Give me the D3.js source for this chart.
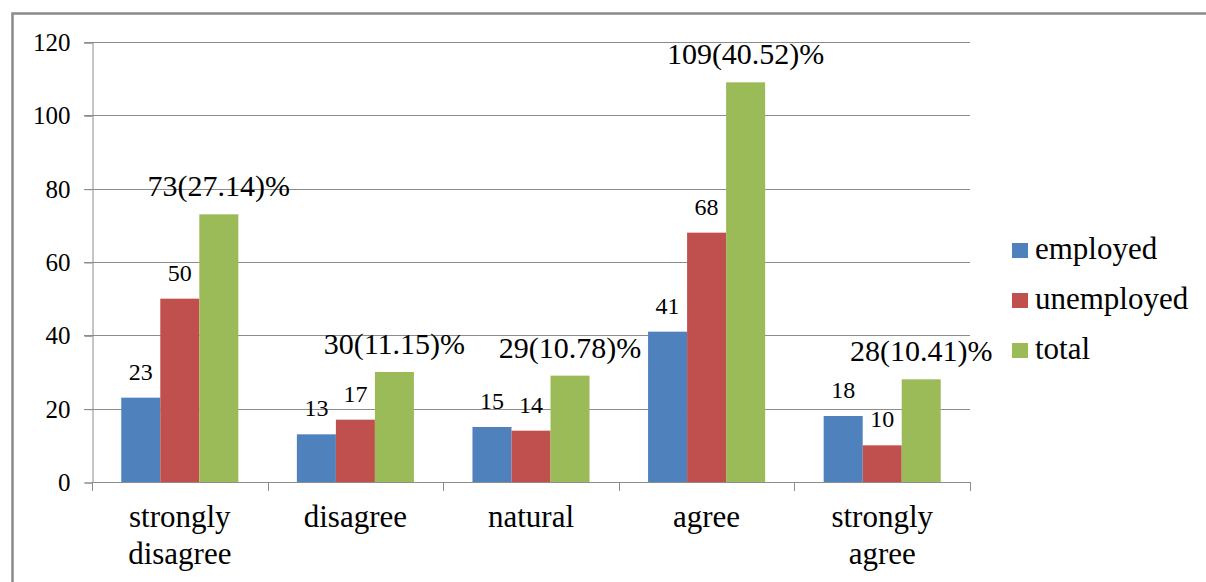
<!DOCTYPE html>
<html>
<head>
<meta charset="utf-8">
<script src="https://cdn.jsdelivr.net/npm/d3@7"></script>
<style>
  html, body { margin: 0; padding: 0; background: #fff; }
  svg { display: block; }
  svg text { font-family: 'Liberation Serif', Tinos, 'Times New Roman', Times, 'DejaVu Serif', serif; fill: #000; }
</style>
</head>
<body>
<svg id="chart" width="1206" height="582"></svg>
<script>
// Attitude responses by employment status
const categories = [["strongly", "disagree"], ["disagree"], ["natural"], ["agree"], ["strongly", "agree"]];
const seriesNames = ["employed", "unemployed", "total"];
const employed   = [23, 13, 15, 41, 18];
const unemployed = [50, 17, 14, 68, 10];
const total      = [73, 30, 29, 109, 28];
const totalPct   = ["27.14", "11.15", "10.78", "40.52", "10.41"];
const yTicks     = [0, 20, 40, 60, 80, 100, 120];
const colors     = ["#4F81BD", "#C0504D", "#9BBB59"];

const series = [employed, unemployed, total];
const catKeys = categories.map(c => c.join(" "));
const serif = "'Liberation Serif', Tinos, 'Times New Roman', Times, 'DejaVu Serif', serif";

const svg = d3.select("#chart");

// outer chart frame
svg.append("rect")
  .attr("x", 12.5).attr("y", 13.5)
  .attr("width", 1250).attr("height", 640)
  .attr("fill", "none").attr("stroke", "#8a8a8a").attr("stroke-width", 2.5);

const plot = { left: 92, right: 970, top: 42, bottom: 482 };

const x = d3.scaleBand().domain(catKeys).range([plot.left, plot.right]).padding(0);
const y = d3.scaleLinear().domain([0, 120]).range([plot.bottom, plot.top]);

const bw = x.bandwidth();
const barW = bw / 4.5;
const groupOffset = barW * 0.75;
const inner = d3.scaleBand().domain(seriesNames)
  .range([groupOffset, groupOffset + barW * 3]).padding(0);

// horizontal gridlines
svg.append("g").selectAll("line").data(yTicks.filter(t => t > 0)).join("line")
  .attr("x1", plot.left - 8).attr("x2", plot.right)
  .attr("y1", d => Math.round(y(d)) + 0.5).attr("y2", d => Math.round(y(d)) + 0.5)
  .attr("stroke", "#8c8c8c").attr("stroke-width", 1);

// y axis
const yAxis = svg.append("g")
  .attr("transform", `translate(${plot.left + 0.5},0.5)`)
  .call(d3.axisLeft(y).tickValues(yTicks).tickSize(8).tickPadding(14).tickFormat(d3.format("d")))
  .attr("font-family", serif);
yAxis.select(".domain").attr("stroke", "#8c8c8c");
yAxis.selectAll(".tick line").attr("stroke", "#8c8c8c");
yAxis.selectAll(".tick text")
  .style("font-family", serif)
  .style("font-size", "25px").attr("fill", "#000");

// bars
const groups = svg.append("g").selectAll("g").data(catKeys).join("g")
  .attr("transform", d => `translate(${x(d)},0)`);

seriesNames.forEach((name, si) => {
  groups.append("rect")
    .attr("x", inner(name))
    .attr("y", (d, i) => y(series[si][i]))
    .attr("width", inner.bandwidth())
    .attr("height", (d, i) => y(0) - y(series[si][i]))
    .attr("fill", colors[si]);
});

// x axis
const xAxisLine = svg.append("g");
xAxisLine.append("line")
  .attr("x1", plot.left).attr("x2", plot.right)
  .attr("y1", plot.bottom + 0.5).attr("y2", plot.bottom + 0.5)
  .attr("stroke", "#8c8c8c");
const boundaries = catKeys.map(k => x(k)).concat([plot.right]);
xAxisLine.selectAll("line.tk").data(boundaries).join("line").attr("class", "tk")
  .attr("x1", d => Math.round(d) + 0.5).attr("x2", d => Math.round(d) + 0.5)
  .attr("y1", plot.bottom).attr("y2", plot.bottom + 9)
  .attr("stroke", "#8c8c8c");

// category labels
const catText = svg.append("g").selectAll("text").data(categories).join("text")
  .attr("x", (d, i) => x(catKeys[i]) + bw / 2)
  .attr("y", 527)
  .attr("text-anchor", "middle")
  .style("font-family", serif)
  .style("font-size", "31px");
catText.selectAll("tspan").data(d => d).join("tspan")
  .attr("x", function () { return d3.select(this.parentNode).attr("x"); })
  .attr("dy", (d, i) => i === 0 ? 0 : 37)
  .text(d => d);

// value labels
seriesNames.forEach((name, si) => {
  svg.append("g").selectAll("text").data(catKeys).join("text")
    .attr("x", d => x(d) + inner(name) + inner.bandwidth() / 2)
    .attr("y", (d, i) => y(series[si][i]) - 18)
    .attr("text-anchor", "middle")
    .style("font-family", serif)
    .style("font-size", si === 2 ? "30px" : "24px")
    .text((d, i) => si === 2 ? `${total[i]}(${totalPct[i]})%` : series[si][i]);
});

// legend
const legend = svg.append("g").selectAll("g").data(seriesNames).join("g")
  .attr("transform", (d, i) => `translate(1012,${243 + i * 50})`);
legend.append("rect").attr("width", 16).attr("height", 15)
  .attr("fill", (d, i) => colors[i]);
legend.append("text").attr("x", 23).attr("y", 16)
  .style("font-family", serif)
  .style("font-size", "31px").text(d => d);
</script>
</body>
</html>
